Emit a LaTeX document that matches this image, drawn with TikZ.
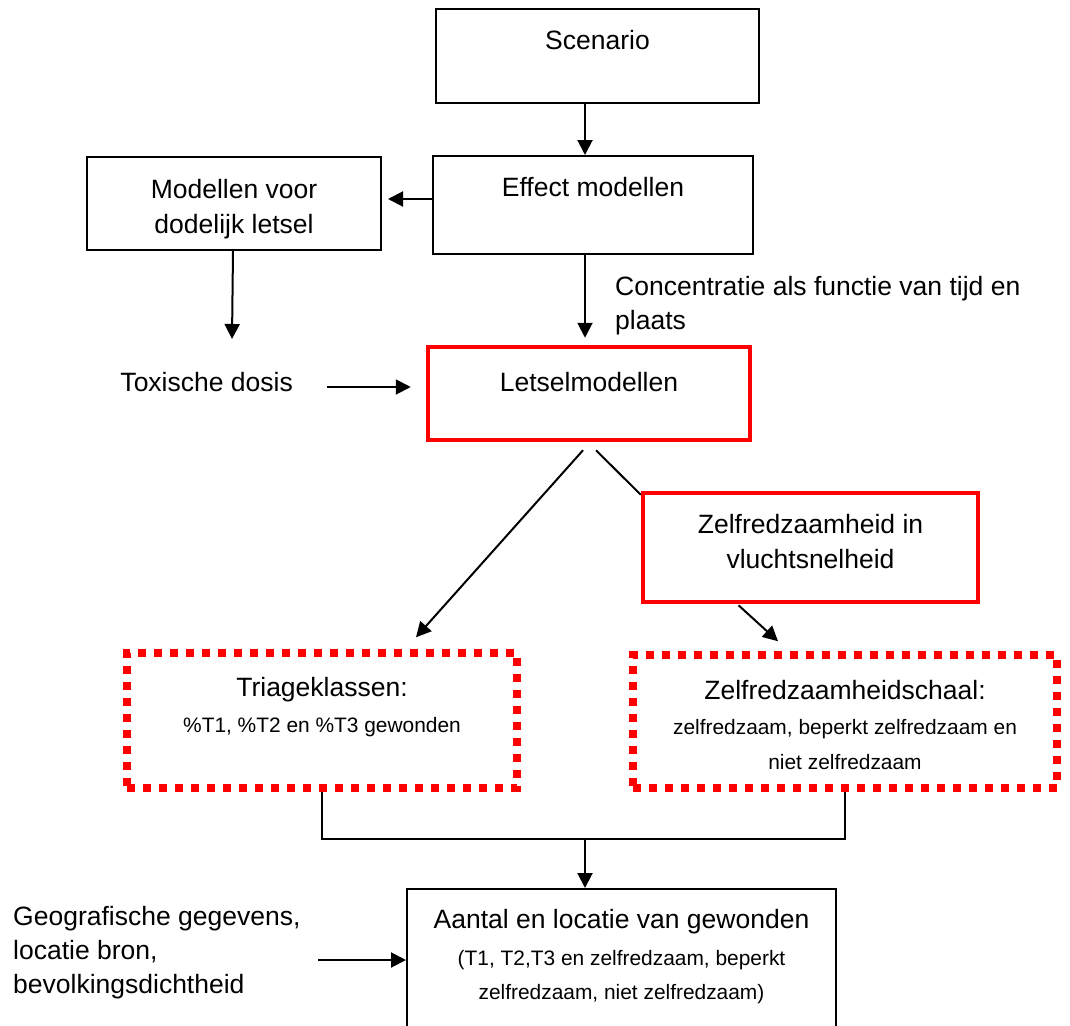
\documentclass[tikz,border=0pt]{standalone}
\usepackage{fontspec}
\setmainfont{Liberation Sans}
\usetikzlibrary{arrows.meta,calc}
\begin{document}
\begin{tikzpicture}[x=1pt,y=-1pt,
  box/.style={draw=black,line width=2pt,inner sep=0pt},
  redbox/.style={draw=red,line width=4.5pt,inner sep=0pt},
  dotbox/.style={draw=red,line width=7.5pt,dash pattern=on 8pt off 8pt,inner sep=0pt},
  big/.style={font=\fontsize{26.5}{35}\selectfont,inner sep=0pt,anchor=base},
  small/.style={font=\fontsize{20.9}{34}\selectfont,inner sep=0pt,anchor=base},
  arr/.style={line width=2pt,-{Triangle[length=15pt,width=15pt]}},
  con/.style={line width=2pt}]
\useasboundingbox (0,0) rectangle (1070,1025);

% boxes
\node[box,minimum width=323pt,minimum height=94pt] (scen) at (597.5,56) {};
\node[box,minimum width=320pt,minimum height=98pt] (eff) at (593,205) {};
\node[box,minimum width=294pt,minimum height=93pt] (mod) at (234,203.5) {};
\node[redbox,minimum width=322pt,minimum height=93pt] (let) at (589,393.5) {};
\node[redbox,minimum width=335pt,minimum height=109pt] (zelf) at (810.5,547.5) {};
\node[box,minimum width=429pt,minimum height=171pt] (tot) at (621.5,974.5) {};

% texts
\node[big] (t-scen) at (597.5,50) {Scenario};
\node[big] (t-eff) at (593,196) {Effect modellen};
\node[big] (t-mod1) at (234,198) {Modellen voor};
\node[big] (t-mod2) at (234,233) {dodelijk letsel};
\node[big,anchor=base west] (t-conc1) at (615,295) {Concentratie als functie van tijd en};
\node[big,anchor=base west] (t-conc2) at (615,329) {plaats};
\node[big] (t-let) at (589,391) {Letselmodellen};
\node[big,anchor=base east] (tox) at (293,391) {Toxische dosis};
\node[big] (t-zelf1) at (810.5,533) {Zelfredzaamheid in};
\node[big] (t-zelf2) at (810.5,568) {vluchtsnelheid};
\node[big] (t-tri1) at (322,696) {Triageklassen:};
\node[small] (t-tri2) at (322,732) {\%T1, \%T2 en \%T3 gewonden};
\node[big] (t-zs1) at (845,699) {Zelfredzaamheidschaal:};
\node[small] (t-zs2) at (845,734) {zelfredzaam, beperkt zelfredzaam en};
\node[small] (t-zs3) at (845,769) {niet zelfredzaam};
\node[big] (t-tot1) at (621.5,928) {Aantal en locatie van gewonden};
\node[small] (t-tot2) at (621.5,965) {(T1, T2,T3 en zelfredzaam, beperkt};
\node[small] (t-tot3) at (621.5,999) {zelfredzaam, niet zelfredzaam)};
\node[big,anchor=base west] (geo1) at (13,925) {Geografische gegevens,};
\node[big,anchor=base west] (geo2) at (13,959) {locatie bron,};
\node[big,anchor=base west] (geo3) at (13,993) {bevolkingsdichtheid};

% connectors
\coordinate (ax) at (585,0);
\draw[arr] (scen.south -| ax) -- (eff.north -| ax);
\draw[arr,shorten >=7pt] (eff.south -| ax) -- (let.north -| ax);
\coordinate (e-out) at ($(eff.west)+(0,-6)$);
\draw[arr,shorten >=6pt] (e-out) -- (e-out -| mod.east);
\draw[arr] ($(mod.south)+(-1,0)$) -- ($(mod.south)+(-2,88)$);
\coordinate (t-in) at (327,387);
\draw[arr,shorten >=15pt] (t-in) -- (t-in -| let.west);

\node[dotbox,minimum width=390pt,minimum height=135pt] (tri) at (322,720.5) {};
\node[dotbox,minimum width=424pt,minimum height=133pt] (zschaal) at (845,721.5) {};

\draw[arr] ($(let.south)+(-6,8)$) -- ($(tri.north)+(94,-12)$);
\draw[con] ($(let.south)+(7,8)$) -- ($(zelf.north west)+(0,4)$);
\draw[arr] ($(zelf.south)+(-72,1)$) -- ($(zschaal.north)+(-67,-10)$);

\coordinate (join) at (585,839);
\draw[con] (tri.south) |- (join) -| (zschaal.south);
\draw[arr] (join) -- (join |- tot.north);
\coordinate (g-in) at (318,960);
\draw[arr] (g-in) -- (g-in -| tot.west);
\end{tikzpicture}
\end{document}
